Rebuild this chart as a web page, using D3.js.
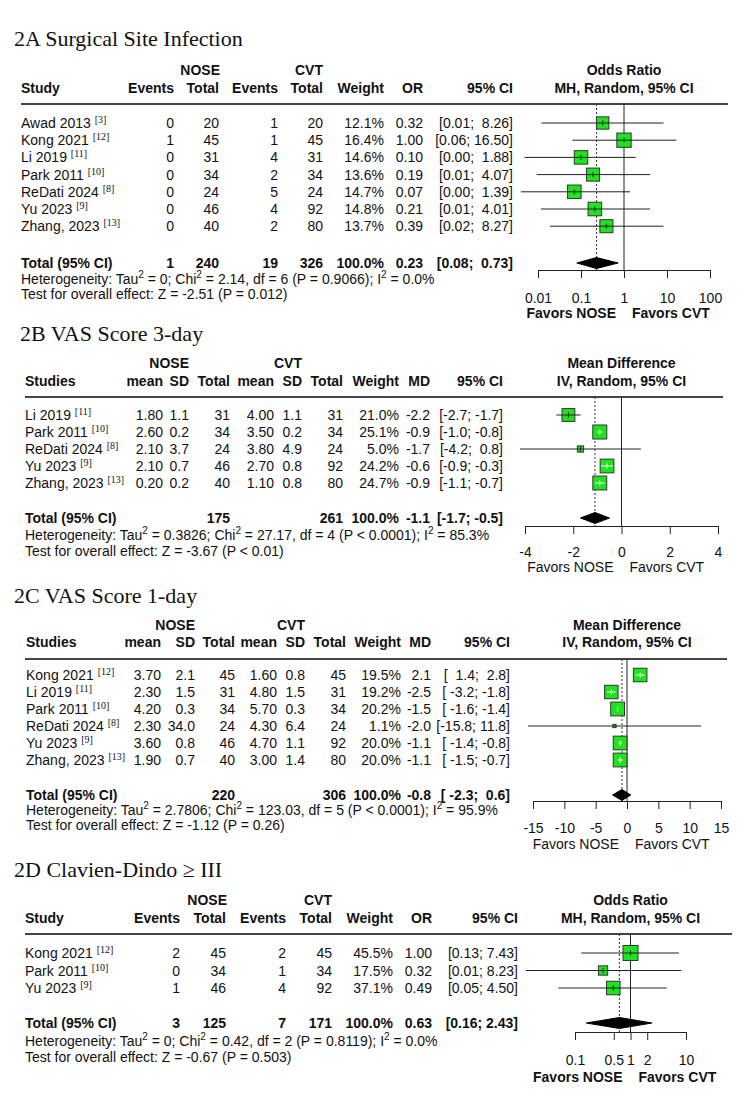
<!DOCTYPE html>
<html><head><meta charset="utf-8">
<script src="https://cdn.jsdelivr.net/npm/d3@7"></script>
<style>
body{margin:0;background:#fff}
svg text{font-family:"Liberation Sans",Arial,Helvetica,sans-serif;font-size:14px;fill:#111;white-space:pre}
</style>
</head><body>
<svg id="c" width="750" height="1096"></svg>
<script>
// ================= DATA =================
// ---- 2A Surgical Site Infection (binary, OR) ----
const aStudy   = ["Awad 2013","Kong 2021","Li 2019","Park 2011","ReDati 2024","Yu 2023","Zhang, 2023"];
const aRef     = ["3","12","11","10","8","9","13"];
const aEvNose  = [0,1,0,0,0,0,0];
const aTotNose = [20,45,31,34,24,46,40];
const aEvCvt   = [1,1,4,2,5,4,2];
const aTotCvt  = [20,45,31,34,24,92,80];
const aWeight  = [12.1,16.4,14.6,13.6,14.7,14.8,13.7];
const aEst     = [0.32,1.00,0.10,0.19,0.07,0.21,0.39];
const aLo      = [0.012,0.063,0.0049,0.0093,0.004,0.0117,0.019];
const aHi      = [8.26,16.50,1.88,4.07,1.39,4.01,8.27];
const aTotals  = [1,240,19,326];
const aPooled  = [0.23,0.08,0.73];
const aHet     = ["0","2.14","6","= 0.9066","0.0%"];
const aTest    = ["-2.51","= 0.012"];
const aTicks   = [0.01,0.1,1,10,100];

// ---- 2B VAS Score 3-day (continuous, MD) ----
const bStudy    = ["Li 2019","Park 2011","ReDati 2024","Yu 2023","Zhang, 2023"];
const bRef      = ["11","10","8","9","13"];
const bMeanNose = [1.80,2.60,2.10,2.10,0.20];
const bSdNose   = [1.1,0.2,3.7,0.7,0.2];
const bTotNose  = [31,34,24,46,40];
const bMeanCvt  = [4.00,3.50,3.80,2.70,1.10];
const bSdCvt    = [1.1,0.2,4.9,0.8,0.8];
const bTotCvt   = [31,34,24,92,80];
const bWeight   = [21.0,25.1,5.0,24.2,24.7];
const bEst      = [-2.2,-0.9,-1.7,-0.6,-0.9];
const bLo       = [-2.7,-1.0,-4.2,-0.9,-1.1];
const bHi       = [-1.7,-0.8,0.8,-0.3,-0.7];
const bTotals   = [175,261];
const bPooled   = [-1.1,-1.7,-0.5];
const bHet      = ["0.3826","27.17","4","< 0.0001","85.3%"];
const bTest     = ["-3.67","< 0.01"];
const bTicks    = [-4,-2,0,2,4];

// ---- 2C VAS Score 1-day (continuous, MD) ----
const cStudy    = ["Kong 2021","Li 2019","Park 2011","ReDati 2024","Yu 2023","Zhang, 2023"];
const cRef      = ["12","11","10","8","9","13"];
const cMeanNose = [3.70,2.30,4.20,2.30,3.60,1.90];
const cSdNose   = [2.1,1.5,0.3,34.0,0.8,0.7];
const cTotNose  = [45,31,34,24,46,40];
const cMeanCvt  = [1.60,4.80,5.70,4.30,4.70,3.00];
const cSdCvt    = [0.8,1.5,0.3,6.4,1.1,1.4];
const cTotCvt   = [45,31,34,24,92,80];
const cWeight   = [19.5,19.2,20.2,1.1,20.0,20.0];
const cEst      = [2.1,-2.5,-1.5,-2.0,-1.1,-1.1];
const cLo       = [1.4,-3.2,-1.6,-15.8,-1.4,-1.5];
const cHi       = [2.8,-1.8,-1.4,11.8,-0.8,-0.7];
const cTotals   = [220,306];
const cPooled   = [-0.8,-2.3,0.6];
const cHet      = ["2.7806","123.03","5","< 0.0001","95.9%"];
const cTest     = ["-1.12","= 0.26"];
const cTicks    = [-15,-10,-5,0,5,10,15];

// ---- 2D Clavien-Dindo >= III (binary, OR) ----
const dStudy   = ["Kong 2021","Park 2011","Yu 2023"];
const dRef     = ["12","10","9"];
const dEvNose  = [2,0,1];
const dTotNose = [45,34,46];
const dEvCvt   = [2,1,4];
const dTotCvt  = [45,34,92];
const dWeight  = [45.5,17.5,37.1];
const dEst     = [1.00,0.32,0.49];
const dLo      = [0.13,0.013,0.05];
const dHi      = [7.43,8.23,4.50];
const dTotals  = [3,125,7,171];
const dPooled  = [0.63,0.16,2.43];
const dHet     = ["0","0.42","2","= 0.8119","0.0%"];
const dTest    = ["-0.67","= 0.503"];
const dTicks   = [0.1,0.5,1,2,10];

// ================= DRAWING =================
const SERIF = '"Liberation Serif","Times New Roman",serif';
const svg = d3.select("#c");

function pad(s, n){ while(s.length < n) s = " " + s; return s; }
function ciStrings(lo, hi, plo, phi, dec){
  const L = lo.concat([plo]).map(v => v.toFixed(dec));
  const H = hi.concat([phi]).map(v => v.toFixed(dec));
  const nl = d3.max(L, s => s.length), nh = d3.max(H, s => s.length);
  return L.map((l,i) => "[" + pad(l,nl) + "; " + pad(H[i],nh) + "]");
}

function drawPanel(p){
  const g = svg.append("g");
  const n = p.study.length;
  const x = (p.log ? d3.scaleLog() : d3.scaleLinear()).domain(p.domain).range(p.range);
  const y = d3.scaleLinear().domain([0, n-1]).range([p.row0, p.row0 + p.rowStep*(n-1)]);
  const side = d3.scaleSqrt().domain([0, d3.max(p.weight)]).range([0, p.maxSide]);
  const ci = ciStrings(p.lo, p.hi, p.pooled[1], p.pooled[2], p.dec);

  // title
  g.append("text").attr("x", p.titleX).attr("y", p.titleY)
    .style("font-family", SERIF).style("font-size", "22px").text(p.title);

  // group headers (right aligned over a column)
  p.groups.forEach(gr => g.append("text").attr("x", gr.x).attr("y", p.groupY)
    .attr("text-anchor","end").style("font-weight","bold").text(gr.label));
  // column headers
  g.append("text").attr("x", p.left).attr("y", p.headY).style("font-weight","bold").text(p.studyHead);
  p.cols.forEach(c => g.append("text").attr("x", c.x).attr("y", p.headY)
    .attr("text-anchor","end").style("font-weight","bold").text(c.head));
  // plot headers
  const pc = (p.range[0] + p.range[1]) / 2;
  g.append("text").attr("x", pc).attr("y", p.groupY).attr("text-anchor","middle")
    .style("font-weight","bold").text(p.ph1);
  g.append("text").attr("x", pc).attr("y", p.headY).attr("text-anchor","middle")
    .style("font-weight","bold").text(p.ph2);
  // header rule
  g.append("line").attr("x1", p.lineX[0]).attr("x2", p.lineX[1])
    .attr("y1", p.lineY).attr("y2", p.lineY).attr("stroke","#444").attr("stroke-width",2);

  // study rows
  p.study.forEach((s,i) => {
    const t = g.append("text").attr("x", p.left).attr("y", y(i));
    t.append("tspan").text(s + " ");
    t.append("tspan").attr("dy", -5).style("font-family", SERIF).style("font-size","10px").text("[" + p.ref[i] + "]");
  });
  p.cols.forEach(c => {
    c.vals.forEach((v,i) => g.append("text").attr("x", c.x).attr("y", y(i))
      .attr("text-anchor","end").text(v));
  });
  // CI column
  p.study.forEach((s,i) => g.append("text").attr("x", p.ciX).attr("y", y(i))
    .attr("text-anchor","end").text(ci[i]));

  // total row
  g.append("text").attr("x", p.left).attr("y", p.totalY).style("font-weight","bold").text("Total (95% CI)");
  p.cols.forEach(c => { if (c.tot !== null && c.tot !== undefined)
    g.append("text").attr("x", c.x).attr("y", p.totalY).attr("text-anchor","end")
      .style("font-weight","bold").text(c.tot); });
  g.append("text").attr("x", p.ciX).attr("y", p.totalY).attr("text-anchor","end")
    .style("font-weight","bold").text(ci[n]);

  // heterogeneity
  const h = g.append("text").attr("x", p.left).attr("y", p.hetY);
  const parts = [["Heterogeneity: Tau",0],["2",1],[" = " + p.het[0] + "; Chi",0],["2",1],
    [" = " + p.het[1] + ", df = " + p.het[2] + " (P " + p.het[3] + "); I",0],["2",1],[" = " + p.het[4],0]];
  let up = false;
  parts.forEach(([s,isSup]) => {
    const ts = h.append("tspan").text(s);
    if (isSup){ ts.attr("dy", -6).style("font-size","10px"); up = true; }
    else if (up){ ts.attr("dy", 6); up = false; }
  });
  g.append("text").attr("x", p.left).attr("y", p.testY)
    .text("Test for overall effect: Z = " + p.test[0] + " (P " + p.test[1] + ")");

  // reference lines
  g.append("line").attr("x1", x(p.nullV)).attr("x2", x(p.nullV)).attr("y1", p.lineY).attr("y2", p.axisY)
    .attr("stroke","#222").attr("stroke-width",1);
  g.append("line").attr("x1", x(p.pooled[0])).attr("x2", x(p.pooled[0])).attr("y1", p.lineY).attr("y2", p.axisY)
    .attr("stroke","#333").attr("stroke-width",1).attr("stroke-dasharray","2,2");

  // study markers
  p.study.forEach((s,i) => {
    const cy = y(i) - 5, cx = x(p.est[i]), sd = side(p.weight[i]);
    const xl = x(p.lo[i]), xh = x(p.hi[i]);
    const inside = (xh - xl) <= sd + 2;
    if (!inside) g.append("line").attr("x1", xl).attr("x2", xh).attr("y1", cy).attr("y2", cy)
      .attr("stroke","#222").attr("stroke-width",1);
    g.append("rect").attr("x", cx - sd/2).attr("y", cy - sd/2).attr("width", sd).attr("height", sd)
      .attr("fill","#1ee41e").attr("stroke","#333").attr("stroke-width",1);
    const col = inside ? "#fff" : "#222";
    if (inside) g.append("line").attr("x1", Math.max(xl, cx - sd/2 + 1)).attr("x2", Math.min(xh, cx + sd/2 - 1))
      .attr("y1", cy).attr("y2", cy).attr("stroke", col).attr("stroke-width",1);
    else g.append("line").attr("x1", Math.max(xl, cx - sd/2)).attr("x2", Math.min(xh, cx + sd/2))
      .attr("y1", cy).attr("y2", cy).attr("stroke", col).attr("stroke-width",1);
    if (sd > 5) g.append("line").attr("x1", cx).attr("x2", cx).attr("y1", cy - 2.5).attr("y2", cy + 2.5)
      .attr("stroke", col).attr("stroke-width",1);
  });

  // pooled diamond
  const dy = p.totalY - 5, dh = 5.5;
  g.append("path").attr("d", d3.line()([[x(p.pooled[1]),dy],[x(p.pooled[0]),dy-dh],[x(p.pooled[2]),dy],[x(p.pooled[0]),dy+dh]]) + "Z")
    .attr("fill","#000").attr("stroke","#000");

  // axis
  const ax = g.append("g").attr("transform","translate(0," + p.axisY + ")")
    .call(d3.axisBottom(x).tickValues(p.ticks).tickSize(8).tickSizeOuter(0)
      .tickPadding(p.tickLabY - p.axisY - 18).tickFormat(d => String(d)));
  ax.select(".domain").attr("stroke","#222");
  ax.selectAll(".tick line").attr("stroke","#222");
  ax.selectAll(".tick text").attr("fill","#111").style("font-size","14px")
    .style("font-family",'"Liberation Sans",Arial,sans-serif');

  // favours labels
  const xn = x(p.nullV);
  g.append("text").attr("x", xn - 8).attr("y", p.favY).attr("text-anchor","end")
    .style("font-weight", p.favBold ? "bold" : "normal").text("Favors NOSE");
  g.append("text").attr("x", xn + 8).attr("y", p.favY).attr("text-anchor","start")
    .style("font-weight", p.favBold ? "bold" : "normal").text("Favors CVT");
}

const f2 = v => v.toFixed(2), f1 = v => v.toFixed(1), pct = v => v.toFixed(1) + "%";

// 2A
drawPanel({
  title:"2A Surgical Site Infection", titleX:14, titleY:46,
  groupY:75, headY:93, lineY:104, lineX:[21,728], left:21,
  row0:128, rowStep:17.2, totalY:268, hetY:284, testY:299,
  study:aStudy, ref:aRef, weight:aWeight, est:aEst, lo:aLo, hi:aHi, pooled:aPooled, dec:2,
  het:aHet, test:aTest, ticks:aTicks, log:true, nullV:1,
  domain:[0.01,100], range:[538,710], axisY:270, tickLabY:303, favY:318, favBold:true, maxSide:14.3,
  studyHead:"Study", ph1:"Odds Ratio", ph2:"MH, Random, 95% CI",
  groups:[{label:"NOSE", x:220},{label:"CVT", x:323}],
  cols:[
    {head:"Events", x:174, vals:aEvNose, tot:aTotals[0]},
    {head:"Total", x:219, vals:aTotNose, tot:aTotals[1]},
    {head:"Events", x:278, vals:aEvCvt, tot:aTotals[2]},
    {head:"Total", x:323, vals:aTotCvt, tot:aTotals[3]},
    {head:"Weight", x:384, vals:aWeight.map(pct), tot:"100.0%"},
    {head:"OR", x:423, vals:aEst.map(f2), tot:f2(aPooled[0])},
    {head:"95% CI", x:513, vals:[], tot:null}
  ], ciX:513
});

// 2B
drawPanel({
  title:"2B VAS Score 3-day", titleX:20, titleY:341,
  groupY:368, headY:386, lineY:397, lineX:[25,723], left:25,
  row0:420, rowStep:17, totalY:523, hetY:540, testY:556,
  study:bStudy, ref:bRef, weight:bWeight, est:bEst, lo:bLo, hi:bHi, pooled:bPooled, dec:1,
  het:bHet, test:bTest, ticks:bTicks, log:false, nullV:0,
  domain:[-4,4], range:[525,718], axisY:526, tickLabY:557, favY:572, favBold:false, maxSide:14,
  studyHead:"Studies", ph1:"Mean Difference", ph2:"IV, Random, 95% CI",
  groups:[{label:"NOSE", x:189},{label:"CVT", x:302}],
  cols:[
    {head:"mean", x:163, vals:bMeanNose.map(f2), tot:null},
    {head:"SD", x:189, vals:bSdNose.map(f1), tot:null},
    {head:"Total", x:230, vals:bTotNose, tot:bTotals[0]},
    {head:"mean", x:274, vals:bMeanCvt.map(f2), tot:null},
    {head:"SD", x:302, vals:bSdCvt.map(f1), tot:null},
    {head:"Total", x:343, vals:bTotCvt, tot:bTotals[1]},
    {head:"Weight", x:399, vals:bWeight.map(pct), tot:"100.0%"},
    {head:"MD", x:430, vals:bEst.map(f1), tot:f1(bPooled[0])},
    {head:"95% CI", x:503, vals:[], tot:null}
  ], ciX:503
});

// 2C
drawPanel({
  title:"2C VAS Score 1-day", titleX:14, titleY:603,
  groupY:630, headY:647, lineY:659, lineX:[25,727], left:26,
  row0:680, rowStep:17, totalY:800, hetY:815, testY:830,
  study:cStudy, ref:cRef, weight:cWeight, est:cEst, lo:cLo, hi:cHi, pooled:cPooled, dec:1,
  het:cHet, test:cTest, ticks:cTicks, log:false, nullV:0,
  domain:[-15,15], range:[533,721], axisY:801, tickLabY:833, favY:849, favBold:false, maxSide:13.8,
  studyHead:"Studies", ph1:"Mean Difference", ph2:"IV, Random, 95% CI",
  groups:[{label:"NOSE", x:195},{label:"CVT", x:305}],
  cols:[
    {head:"mean", x:161, vals:cMeanNose.map(f2), tot:null},
    {head:"SD", x:195, vals:cSdNose.map(f1), tot:null},
    {head:"Total", x:235, vals:cTotNose, tot:cTotals[0]},
    {head:"mean", x:277, vals:cMeanCvt.map(f2), tot:null},
    {head:"SD", x:305, vals:cSdCvt.map(f1), tot:null},
    {head:"Total", x:346, vals:cTotCvt, tot:cTotals[1]},
    {head:"Weight", x:401, vals:cWeight.map(pct), tot:"100.0%"},
    {head:"MD", x:431, vals:cEst.map(f1), tot:f1(cPooled[0])},
    {head:"95% CI", x:510, vals:[], tot:null}
  ], ciX:510
});

// 2D
drawPanel({
  title:"2D Clavien-Dindo \u2265 III", titleX:14, titleY:877,
  groupY:905, headY:923, lineY:934, lineX:[25,732], left:25,
  row0:958, rowStep:17.5, totalY:1028, hetY:1046, testY:1062,
  study:dStudy, ref:dRef, weight:dWeight, est:dEst, lo:dLo, hi:dHi, pooled:dPooled, dec:2,
  het:dHet, test:dTest, ticks:dTicks, log:true, nullV:1,
  domain:[0.1,10], range:[575,686], axisY:1032, tickLabY:1065, favY:1082, favBold:true, maxSide:15,
  studyHead:"Study", ph1:"Odds Ratio", ph2:"MH, Random, 95% CI",
  groups:[{label:"NOSE", x:227},{label:"CVT", x:332}],
  cols:[
    {head:"Events", x:180, vals:dEvNose, tot:dTotals[0]},
    {head:"Total", x:226, vals:dTotNose, tot:dTotals[1]},
    {head:"Events", x:286, vals:dEvCvt, tot:dTotals[2]},
    {head:"Total", x:332, vals:dTotCvt, tot:dTotals[3]},
    {head:"Weight", x:393, vals:dWeight.map(pct), tot:"100.0%"},
    {head:"OR", x:432, vals:dEst.map(f2), tot:f2(dPooled[0])},
    {head:"95% CI", x:518, vals:[], tot:null}
  ], ciX:518
});
</script>
</body></html>
